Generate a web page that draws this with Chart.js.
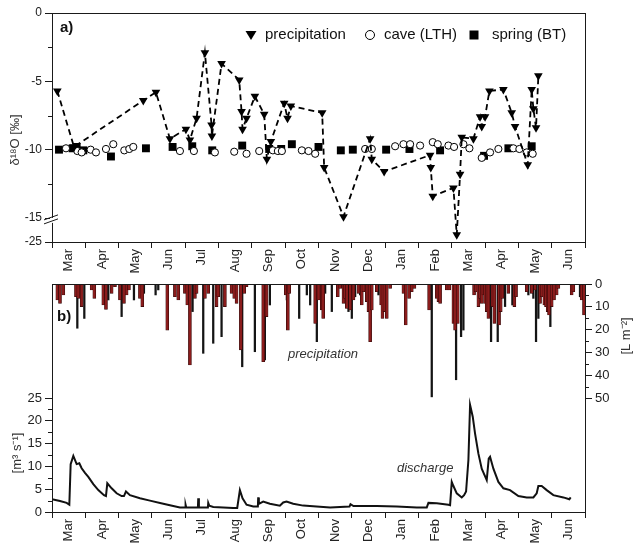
<!DOCTYPE html>
<html>
<head>
<meta charset="utf-8">
<script src="https://cdn.jsdelivr.net/npm/chart.js@4.4.0/dist/chart.umd.min.js"></script>
<style>
  html, body { margin: 0; padding: 0; background: #fff; }
  #wrap { position: relative; width: 633px; height: 543px; overflow: hidden; }
  #wrap canvas { position: absolute; left: 0; }
</style>
</head>
<body>
<div id="wrap">
  <canvas id="isoChart" width="633" height="280" style="top:0;width:633px;height:280px"></canvas>
  <canvas id="flowChart" width="633" height="273" style="top:270px;width:633px;height:273px"></canvas>
</div>
<script>
// Month labels, x values below are "months since 1 March" (0 … 16)
const MONTHS = ['Mar', 'Apr', 'May', 'Jun', 'Jul', 'Aug', 'Sep', 'Oct', 'Nov', 'Dec', 'Jan', 'Feb', 'Mar', 'Apr', 'May', 'Jun'];

// --- panel a: δ18O ---
const precipIsoX = [0.16, 0.66, 2.74, 3.12, 3.54, 4.02, 4.14, 4.34, 4.59, 4.79, 4.80, 5.09, 5.62, 5.69, 5.72, 5.84,
  6.09, 6.37, 6.45, 6.57, 6.97, 7.07, 7.17, 8.11, 8.17, 8.75, 9.55, 9.60, 9.97, 11.35, 11.37, 11.43,
  12.05, 12.15, 12.25, 12.30, 12.65, 12.85, 12.90, 13.00, 13.13, 13.55, 13.80, 13.90, 14.28, 14.40, 14.45, 14.53, 14.60];
const precipIsoY = [-5.7, -9.8, -6.4, -5.8, -9.2, -8.5, -9.3, -7.7, -2.9, -8.2, -9.0, -3.7, -4.9, -7.2, -8.5, -7.7,
  -6.1, -7.4, -10.7, -9.4, -6.6, -7.7, -6.8, -7.3, -11.3, -14.9, -9.2, -10.7, -11.6, -10.4, -11.3, -13.4,
  -12.8, -22.0, -11.8, -9.1, -9.2, -7.6, -8.3, -7.6, -5.7, -5.6, -7.3, -8.3, -11.1, -5.6, -7.0, -8.4, -4.6];

const caveX = [0.42, 0.76, 0.89, 1.16, 1.32, 1.62, 1.84, 2.17, 2.32, 2.44, 3.84, 4.26, 4.89, 5.47, 5.84, 6.22,
  6.63, 6.78, 6.90, 7.50, 7.70, 7.90, 9.40, 9.60, 10.30, 10.55, 10.75, 11.05, 11.43, 11.58, 11.90, 12.07,
  12.35, 12.53, 12.90, 13.15, 13.40, 13.85, 14.03, 14.25, 14.43];
const caveY = [-9.9, -10.1, -10.2, -10.0, -10.2, -9.95, -9.6, -10.05, -9.95, -9.8, -10.1, -10.1, -10.2, -10.15, -10.3, -10.1,
  -10.05, -10.1, -10.1, -10.05, -10.1, -10.3, -9.95, -9.95, -9.75, -9.6, -9.6, -9.7, -9.45, -9.6, -9.7, -9.8,
  -9.6, -9.9, -10.6, -10.2, -9.95, -9.9, -9.95, -10.2, -10.3];

const springX = [0.21, 0.62, 0.74, 0.94, 1.77, 2.82, 3.62, 4.21, 4.81, 5.71, 6.52, 6.88, 7.20, 8.00,
  8.67, 9.03, 10.03, 10.73, 11.65, 12.97, 13.70, 14.40];
const springY = [-10.0, -9.9, -9.8, -10.05, -10.5, -9.9, -9.8, -9.75, -10.05, -9.7, -9.95, -9.95, -9.6, -9.8,
  -10.05, -10.0, -10.0, -9.95, -10.05, -10.45, -9.9, -9.75];

const isoTicks = [-25, -15, -10, -5, 0];
const isoMinor = [-12.5, -7.5, -2.5];

// --- panel b: precipitation [L m-2] and discharge [m3 s-1] ---
const rainRedX = [0.16, 0.24, 0.34, 0.72, 0.79, 0.89, 1.19, 1.27, 1.54, 1.62, 1.79, 1.89, 2.04, 2.16, 2.24, 2.31,
  2.64, 2.71, 3.46, 3.69, 3.79, 3.99, 4.06, 4.14, 4.29, 4.34, 4.59, 4.69, 4.94, 4.99, 5.19, 5.39, 5.47, 5.54,
  5.67, 5.77, 5.84, 6.34, 6.44, 7.02, 7.08, 7.12, 7.90, 8.00, 8.10, 8.14, 8.58, 8.65, 8.75, 8.80, 8.85, 8.95,
  9.05, 9.20, 9.30, 9.35, 9.45, 9.50, 9.55, 9.60, 9.75, 9.88, 9.92, 9.98, 10.05, 10.15, 10.55, 10.62, 10.72,
  10.80, 10.88, 11.32, 11.55, 11.60, 11.65, 11.85, 11.93, 12.05, 12.10, 12.18, 12.67, 12.72, 12.80, 12.85,
  12.90, 12.95, 13.00, 13.05, 13.10, 13.22, 13.28, 13.42, 13.47, 13.52, 13.70, 13.88, 13.93, 14.25, 14.40,
  14.50, 14.65, 14.70, 14.78, 14.83, 14.88, 14.92, 15.00, 15.07, 15.15, 15.20, 15.60, 15.65, 15.90, 15.97];
const rainRedV = [7.0, 8.5, 4.8, 5.6, 6.3, 9.9, 2.6, 6.3, 9.2, 11.1, 4.1, 1.2, 7.0, 8.5, 4.8, 2.6,
  6.3, 9.9, 20.2, 5.6, 7.0, 4.1, 9.2, 35.5, 6.3, 4.1, 6.3, 4.1, 9.9, 5.6, 9.9, 4.1, 6.3, 8.5,
  28.9, 4.1, 1.2, 34.1, 14.3, 4.8, 20.2, 4.1, 17.3, 7.0, 11.4, 15.1, 5.6, 1.9, 8.5, 6.3, 10.7, 11.4,
  7.0, 4.1, 9.2, 3.4, 7.7, 12.1, 25.3, 11.4, 3.4, 9.2, 15.1, 12.1, 15.1, 1.9, 4.1, 18.0, 6.3,
  3.4, 1.9, 11.4, 6.3, 7.7, 8.5, 2.6, 2.6, 17.3, 20.2, 17.3, 4.8, 3.4, 9.9, 6.3,
  8.5, 4.8, 8.5, 12.1, 15.1, 9.9, 17.3, 18.0, 12.1, 6.3, 4.1, 9.9, 5.6, 3.4, 4.1,
  2.6, 8.5, 5.6, 9.2, 9.9, 12.1, 13.6, 9.9, 7.0, 4.8, 1.9, 4.8, 3.4, 7.0, 13.6];

const rainBlackX = [0.20, 0.76, 0.97, 1.69, 2.09, 2.46, 2.76, 3.11, 3.19, 4.22, 4.54, 4.84, 5.09, 5.71, 6.09, 6.39,
  6.54, 7.05, 7.42, 7.65, 7.75, 7.95, 8.20, 8.40, 8.90, 9.00, 9.10, 9.25, 9.80, 11.40, 12.13, 12.28, 12.35,
  13.18, 13.38, 13.60, 13.82, 14.30, 14.45, 14.53, 14.60, 14.96, 15.85];
const rainBlackV = [6.3, 19.4, 15.1, 7.0, 14.3, 7.0, 4.1, 4.8, 2.6, 12.1, 30.4, 26.0, 23.1, 36.3, 29.7, 33.3,
  9.2, 7.0, 15.1, 4.8, 9.2, 25.3, 4.1, 12.1, 12.1, 15.1, 5.6, 4.8, 4.8, 49.5, 42.0, 23.1, 20.2,
  25.3, 25.3, 9.9, 9.2, 4.8, 6.3, 25.3, 15.1, 18.7, 5.6];

const flowX = [0.00, 0.24, 0.44, 0.52, 0.56, 0.64, 0.74, 0.82, 0.89, 0.99, 1.09, 1.24, 1.39, 1.56, 1.62, 1.66,
  1.79, 1.94, 2.09, 2.16, 2.22, 2.34, 2.64, 2.94, 3.34, 3.64, 3.84, 4.00, 4.01, 4.03, 4.38, 4.39, 4.41,
  4.68, 4.69, 4.72, 4.84, 5.44, 5.56, 5.64, 5.72, 5.84, 6.04, 6.18, 6.19, 6.21, 6.34, 6.54, 6.84, 6.94,
  7.04, 7.24, 7.54, 7.94, 8.35, 8.93, 8.96, 9.05, 9.75, 10.35, 10.95, 11.25, 11.30, 11.55, 11.90, 11.95,
  12.00, 12.05, 12.15, 12.30, 12.37, 12.43, 12.50, 12.55, 12.63, 12.70, 12.80, 12.90, 13.05, 13.11, 13.15,
  13.25, 13.40, 13.55, 13.75, 14.00, 14.25, 14.45, 14.55, 14.60, 14.70, 14.85, 15.05, 15.35, 15.53, 15.57];
const flowQ = [2.8, 2.4, 2.0, 1.6, 10.5, 12.3, 10.5, 10.7, 9.6, 8.6, 7.7, 6.1, 4.8, 3.7, 3.5, 6.3,
  5.2, 4.1, 3.5, 3.5, 4.5, 3.7, 3.0, 2.5, 1.8, 1.3, 1.0, 1.0, 1.6, 1.0, 1.0, 3.0, 1.0,
  1.0, 2.0, 1.4, 1.1, 0.9, 0.9, 4.8, 3.0, 1.6, 1.2, 1.2, 3.2, 1.8, 2.3, 1.8, 1.4, 2.1,
  2.3, 1.8, 1.4, 1.2, 1.0, 1.2, 1.7, 1.3, 1.3, 1.2, 1.0, 1.0, 2.0, 1.9, 1.6, 1.5,
  6.6, 5.7, 4.1, 3.2, 3.7, 4.5, 11.4, 23.5, 20.9, 17.2, 12.8, 9.5, 7.0, 11.7, 12.1,
  9.5, 6.6, 5.2, 4.8, 3.5, 3.2, 3.2, 4.1, 5.7, 5.7, 4.8, 3.7, 3.2, 2.8, 3.2];

const flowTicks = [0, 5, 10, 15, 20, 25];
const flowMinor = [2.5, 7.5, 12.5, 17.5, 22.5];
const rainTicks = [0, 10, 20, 30, 40, 50];
const rainMinor = [5, 15, 25, 35, 45];

// ---------------------------------------------------------------
const FONT = "'Liberation Sans', Arial, sans-serif";
const INK = '#1a1a1a';

// broken y axis: below -15 the scale is squeezed
const BREAK_AT = -15, BREAK_SCALE = 0.1756;
const brk = v => v >= BREAK_AT ? v : BREAK_AT + (v - BREAK_AT) * BREAK_SCALE;
const unbrk = d => d >= BREAK_AT ? d : BREAK_AT + (d - BREAK_AT) / BREAK_SCALE;

const pts = (xs, ys, f = v => v) => xs.map((x, i) => ({ x, y: f(ys[i]) }));

function monthAxis(height) {
  return {
    type: 'linear', min: 0, max: MONTHS.length, offset: false,
    afterBuildTicks: s => { s.ticks = []; for (let v = 0; v <= MONTHS.length; v += 0.5) s.ticks.push({ value: v }); },
    afterFit: s => { s.height = height; },
    border: { display: false },
    grid: {
      offset: false, drawOnChartArea: false, tickLength: 6,
      tickColor: c => (c.tick && Number.isInteger(c.tick.value)) ? INK : 'rgba(0,0,0,0)'
    },
    ticks: {
      autoSkip: false, maxRotation: 90, minRotation: 90, padding: 1, color: '#222',
      font: { family: FONT, size: 13 },
      callback: v => (v % 1 === 0.5) ? MONTHS[Math.floor(v)] : ''
    }
  };
}

function drawText(ctx, t) {
  ctx.save();
  ctx.font = t.font;
  ctx.fillStyle = t.color || '#111';
  ctx.textAlign = t.align || 'left';
  ctx.textBaseline = 'middle';
  ctx.translate(t.x, t.y);
  if (t.rot) ctx.rotate(t.rot);
  ctx.fillText(t.text, 0, 0);
  ctx.restore();
}

function drawMarker(ctx, shape, x, y, r) {
  ctx.save();
  ctx.fillStyle = '#000';
  ctx.strokeStyle = '#000';
  ctx.lineWidth = 1;
  ctx.beginPath();
  if (shape === 'tri') {
    ctx.moveTo(x - r, y - r * 0.75); ctx.lineTo(x + r, y - r * 0.75); ctx.lineTo(x, y + r * 0.9); ctx.closePath(); ctx.fill();
  } else if (shape === 'circle') {
    ctx.fillStyle = '#fff'; ctx.arc(x, y, r, 0, Math.PI * 2); ctx.fill(); ctx.stroke();
  } else {
    ctx.rect(x - r, y - r, 2 * r, 2 * r); ctx.fill();
  }
  ctx.restore();
}

// frame, minor ticks, axis break, labels and legend (config kept outside chart options)
function makeDecor(cfg) {
  return {
    id: 'decor',
    afterDraw(chart) {
      const { ctx, chartArea: a } = chart;
      ctx.save();
      ctx.strokeStyle = INK;
      ctx.lineWidth = 1;
      ctx.strokeRect(Math.round(a.left) + 0.5, Math.round(a.top) + 0.5, Math.round(a.right - a.left), Math.round(a.bottom - a.top));
      (cfg.minor || []).forEach(m => {
        const s = chart.scales[m.scale];
        m.values.forEach(v => {
          const p = Math.round(s.getPixelForValue(m.fn ? m.fn(v) : v)) + 0.5;
          ctx.beginPath();
          if (m.side === 'left') { ctx.moveTo(a.left, p); ctx.lineTo(a.left - 4, p); }
          else { ctx.moveTo(a.right, p); ctx.lineTo(a.right + 4, p); }
          ctx.stroke();
        });
      });
      if (cfg.axisBreak) {
        const yb = chart.scales.y.getPixelForValue(brk(-16.2));
        ctx.fillStyle = '#fff';
        ctx.fillRect(a.left - 2, yb - 3, 5, 5);
        ctx.beginPath();
        ctx.moveTo(a.left - 8, yb - 1); ctx.lineTo(a.left + 6, yb - 6);
        ctx.moveTo(a.left - 8, yb + 3); ctx.lineTo(a.left + 6, yb - 2);
        ctx.stroke();
      }
      (cfg.texts || []).forEach(t => drawText(ctx, t));
      (cfg.legend || []).forEach(l => {
        drawMarker(ctx, l.shape, l.x, l.y, l.r);
        drawText(ctx, { text: l.text, x: l.tx, y: l.y, font: `15px ${FONT}` });
      });
      ctx.restore();
    }
  };
}

// ---------- panel a ----------
new Chart(document.getElementById('isoChart'), {
  type: 'scatter',
  data: {
    datasets: [
      {
        label: 'precipitation',
        data: pts(precipIsoX, precipIsoY, brk),
        showLine: true,
        borderColor: '#000', borderWidth: 1.8, borderDash: [6, 4],
        pointStyle: 'triangle', pointRotation: 180, pointRadius: 5,
        pointBackgroundColor: '#000', pointBorderColor: '#000', pointBorderWidth: 0
      },
      {
        label: 'cave (LTH)',
        data: pts(caveX, caveY, brk),
        pointStyle: 'circle', pointRadius: 3.6,
        pointBackgroundColor: '#fff', pointBorderColor: '#000', pointBorderWidth: 1
      },
      {
        label: 'spring (BT)',
        data: pts(springX, springY, brk),
        pointStyle: 'rect', pointRadius: 5.6,
        pointBackgroundColor: '#000', pointBorderColor: '#000', pointBorderWidth: 0
      }
    ]
  },
  options: {
    responsive: false,
    animation: false,
    layout: { padding: { top: 13, right: 48, left: 0, bottom: 0 } },
    plugins: { legend: { display: false }, tooltip: { enabled: false } },
    scales: {
      x: monthAxis(38),
      y: {
        type: 'linear', min: brk(-25), max: 0,
        afterBuildTicks: s => { s.ticks = isoTicks.map(v => ({ value: brk(v) })); },
        afterFit: s => { s.width = 52; },
        border: { display: false },
        grid: { drawOnChartArea: false, tickLength: 7, tickColor: INK },
        ticks: {
          padding: 3, color: '#222', font: { family: FONT, size: 12 },
          callback: v => String(Math.round(unbrk(v)))
        }
      }
    }
  },
  plugins: [makeDecor({
    minor: [{ scale: 'y', side: 'left', values: isoMinor, fn: brk }],
    axisBreak: true,
    texts: [
      { text: 'a)', x: 60, y: 28, font: `bold 15px ${FONT}` },
      { text: 'δ¹⁸O [‰]', x: 15, y: 140, rot: -Math.PI / 2, align: 'center', font: `13px ${FONT}`, color: '#333' }
    ],
    legend: [
      { shape: 'tri', x: 251, y: 35, r: 5.5, text: 'precipitation', tx: 265 },
      { shape: 'circle', x: 370, y: 35, r: 4.5, text: 'cave (LTH)', tx: 384 },
      { shape: 'rect', x: 474, y: 35, r: 4.5, text: 'spring (BT)', tx: 492 }
    ]
  })]
});

// ---------- panel b ----------
new Chart(document.getElementById('flowChart'), {
  type: 'bar',
  data: {
    datasets: [
      {
        label: 'precipitation',
        data: pts(rainRedX, rainRedV),
        yAxisID: 'yR', grouped: false, barThickness: 3,
        backgroundColor: '#8a1c1c', borderColor: '#2e0606', borderWidth: 0.6
      },
      {
        label: 'precipitation 2',
        data: pts(rainBlackX, rainBlackV),
        yAxisID: 'yR', grouped: false, barThickness: 1.6,
        backgroundColor: '#141414', borderWidth: 0
      },
      {
        type: 'line',
        label: 'discharge',
        data: pts(flowX, flowQ),
        yAxisID: 'yL',
        borderColor: '#111', borderWidth: 2, pointRadius: 0, tension: 0
      }
    ]
  },
  options: {
    responsive: false,
    animation: false,
    layout: { padding: { top: 14, right: 0, left: 0, bottom: 0 } },
    plugins: { legend: { display: false }, tooltip: { enabled: false } },
    scales: {
      x: monthAxis(31),
      yL: {
        type: 'linear', position: 'left', min: 0, max: 50,
        afterBuildTicks: s => { s.ticks = flowTicks.map(v => ({ value: v })); },
        afterFit: s => { s.width = 52; },
        border: { display: false },
        grid: { drawOnChartArea: false, tickLength: 7, tickColor: INK },
        ticks: { padding: 3, color: '#222', font: { family: FONT, size: 13 } }
      },
      yR: {
        type: 'linear', position: 'right', min: 0, max: 100, reverse: true,
        afterBuildTicks: s => { s.ticks = rainTicks.map(v => ({ value: v })); },
        afterFit: s => { s.width = 48; },
        border: { display: false },
        grid: { drawOnChartArea: false, tickLength: 7, tickColor: INK },
        ticks: { padding: 3, color: '#222', font: { family: FONT, size: 13 } }
      }
    }
  },
  plugins: [makeDecor({
    minor: [
      { scale: 'yL', side: 'left', values: flowMinor },
      { scale: 'yR', side: 'right', values: rainMinor }
    ],
    texts: [
      { text: 'b)', x: 57, y: 47, font: `bold 15px ${FONT}` },
      { text: 'precipitation', x: 288, y: 84, font: `italic 13px ${FONT}`, color: '#333' },
      { text: 'discharge', x: 397, y: 198, font: `italic 13px ${FONT}`, color: '#333' },
      { text: '[m³ s⁻¹]', x: 17, y: 183, rot: -Math.PI / 2, align: 'center', font: `13px ${FONT}`, color: '#333' },
      { text: '[L m⁻²]', x: 626, y: 66, rot: -Math.PI / 2, align: 'center', font: `13px ${FONT}`, color: '#333' }
    ]
  })]
});
</script>
</body>
</html>
